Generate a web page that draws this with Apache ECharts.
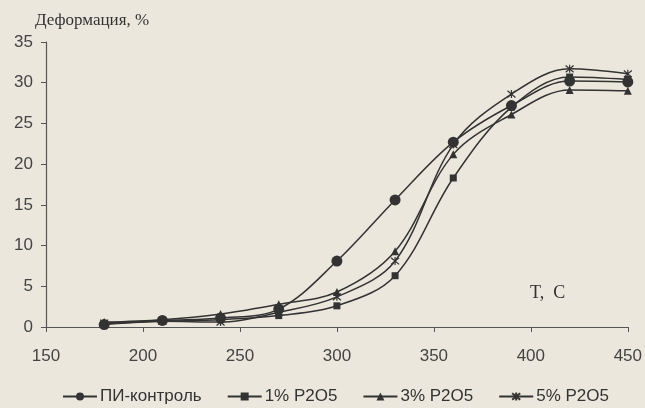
<!DOCTYPE html>
<html><head><meta charset="utf-8">
<script src="https://cdn.jsdelivr.net/npm/echarts@6/dist/echarts.min.js"></script>
<style>html,body{margin:0;padding:0;background:#ebe7dc;}#c{width:645px;height:408px;}</style>
</head><body><div id="c"></div>
<script>
var temps = [180, 210, 240, 270, 300, 330, 360, 390, 420, 450];
var piControl = [0.3, 0.8, 1.1, 2.2, 8.1, 15.6, 22.7, 27.2, 30.2, 30.1];
var p1 = [0.4, 0.7, 0.9, 1.4, 2.6, 6.3, 18.3, 27.0, 30.7, 30.4];
var p3 = [0.6, 0.9, 1.6, 2.8, 4.3, 9.3, 21.2, 26.1, 29.1, 29.0];
var p5 = [0.5, 0.7, 0.6, 1.8, 3.7, 8.1, 22.4, 28.6, 31.7, 31.1];
var seriesNames = ['ПИ-контроль', '1% P2O5', '3% P2O5', '5% P2O5'];
var xTicks = {min: 150, max: 450, interval: 50};
var yTicks = {min: 0, max: 35, interval: 5};

function pairs(v){ return temps.map(function(t,i){ return [t, v[i]]; }); }
var ink = '#333333';
var starPath = 'path://M0,0L10,10M10,0L0,10M5,-1L5,11';
function mk(name, data, symbol, size, extra){
  return Object.assign({
    name: name, type: 'line', data: pairs(data), smooth: 0.35,
    symbol: symbol, symbolSize: size, showSymbol: true,
    lineStyle: {color: ink, width: 1.5},
    itemStyle: {color: ink},
    emphasis: {disabled: true}
  }, extra || {});
}
var chart = echarts.init(document.getElementById('c'));
chart.setOption({
  backgroundColor: '#ebe7dc',
  animation: false,
  grid: {left: 46, right: 17, top: 42, bottom: 81},
  xAxis: {type: 'value', min: xTicks.min, max: xTicks.max, interval: xTicks.interval,
    axisLine: {lineStyle: {color: '#555', width: 1.2}},
    axisTick: {show: true, length: 5, lineStyle: {color: '#555'}},
    splitLine: {show: false},
    axisLabel: {color: '#444', fontFamily: 'Liberation Sans', fontSize: 17, margin: 21}},
  yAxis: {type: 'value', min: yTicks.min, max: yTicks.max, interval: yTicks.interval,
    axisLine: {show: true, lineStyle: {color: '#555', width: 1.2}},
    axisTick: {show: true, length: 5, lineStyle: {color: '#555'}},
    splitLine: {show: false},
    axisLabel: {color: '#444', fontFamily: 'Liberation Sans', fontSize: 17, margin: 13}},
  legend: {bottom: -2, left: 57, itemWidth: 34, itemHeight: 10, itemGap: 25,
    textStyle: {color: '#333', fontFamily: 'Liberation Sans', fontSize: 17, padding: [0,0,0,-2]},
    data: seriesNames},
  graphic: [
    {type: 'text', left: 35, top: 12, style: {text: 'Деформация, %', fill: '#333', font: '17px "Liberation Serif"'}},
    {type: 'text', left: 530, top: 284, style: {text: 'T,  C', fill: '#333', font: '18px "Liberation Serif"'}}
  ],
  series: [
    mk(seriesNames[0], piControl, 'circle', 11),
    mk(seriesNames[1], p1, 'rect', 7),
    mk(seriesNames[2], p3, 'triangle', 8),
    mk(seriesNames[3], p5, starPath, 8, {itemStyle: {color: ink, borderColor: ink, borderWidth: 1.2}})
  ]
});
</script></body></html>
